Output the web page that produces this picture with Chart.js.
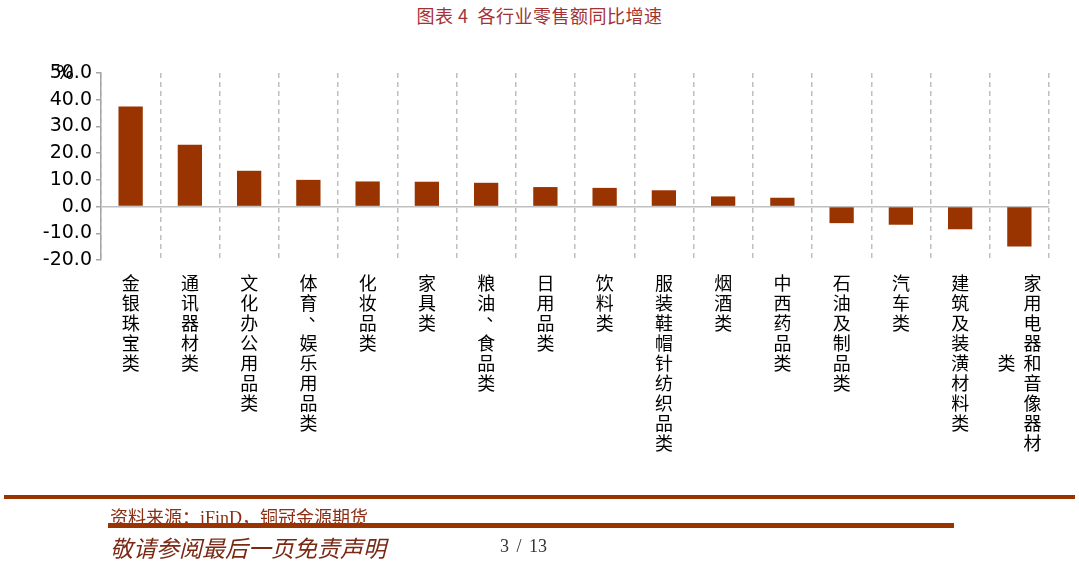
<!DOCTYPE html>
<html>
<head>
<meta charset="utf-8">
<script src="https://cdn.jsdelivr.net/npm/chart.js@4"></script>
<style>
  body { margin: 0; width: 1079px; height: 562px; background: #fff; position: relative; overflow: hidden; font-family: "Noto Sans CJK SC", sans-serif; }
  #wrap { position: absolute; left: 0; top: 0; width: 1079px; height: 562px; }
  .title { position: absolute; top: 2px; left: 0; width: 1079px; text-align: center; color: #a33236; font-size: 18px; letter-spacing: 0.5px; }
  .line1 { position: absolute; left: 4px; top: 495px; width: 1071px; height: 4px; background: #993300; }
  .line2 { position: absolute; left: 108px; top: 523px; width: 846px; height: 5px; background: #993300; }
  .src { position: absolute; left: 110px; top: 503px; color: #8b2f14; font-size: 18px; font-family: "Liberation Serif", "Noto Sans CJK SC", serif; }
  .disc { position: absolute; left: 110px; top: 530px; color: #7a2a14; font-size: 23px; font-style: italic; }
  .page { position: absolute; left: 500px; top: 536px; color: #333; font-size: 18px; word-spacing: 3px; font-family: "Liberation Serif", serif; }
</style>
</head>
<body>
<div class="title">图表 4&nbsp;&nbsp;各行业零售额同比增速</div>
<div id="wrap"><canvas id="c" width="1079" height="562"></canvas></div>
<div class="line1"></div>
<div class="src">资料来源：iFinD，铜冠金源期货</div>
<div class="line2"></div>
<div class="disc">敬请参阅最后一页免责声明</div>
<div class="page">3 / 13</div>
<script>
// 行业分类
const categories = ['金银珠宝类', '通讯器材类', '文化办公用品类', '体育、娱乐用品类', '化妆品类', '家具类',
  '粮油、食品类', '日用品类', '饮料类', '服装鞋帽针纺织品类', '烟酒类', '中西药品类',
  '石油及制品类', '汽车类', '建筑及装潢材料类', '家用电器和音像器材类'];
// 同比增速（%）
const growth = [37.5, 23.1, 13.4, 10.0, 9.4, 9.3, 8.9, 7.3, 7.0, 6.1, 3.8, 3.3, -6.2, -6.8, -8.5, -14.9];
const yMin = -20, yMax = 50, yStep = 10;

// x轴の縦書きラベル
const verticalLabels = {
  id: 'verticalLabels',
  afterDraw(chart) {
    const ctx = chart.ctx;
    const xs = chart.scales.x;
    const top = chart.chartArea.bottom + 23;
    const lh = 20, perCol = 9, colGap = 26;
    ctx.save();
    ctx.font = '18px "Noto Sans CJK SC"';
    ctx.fillStyle = '#000';
    ctx.textAlign = 'center';
    ctx.textBaseline = 'middle';
    categories.forEach((label, i) => {
      const cx = xs.getPixelForValue(i);
      const chars = Array.from(label);
      const cols = [];
      for (let k = 0; k < chars.length; k += perCol) cols.push(chars.slice(k, k + perCol));
      const fullH = Math.min(chars.length, perCol) * lh;
      cols.forEach((col, c) => {
        const x = cx + ((cols.length - 1) / 2 - c) * colGap;
        const y0 = top + (fullH - col.length * lh) / 2;
        col.forEach((ch, j) => {
          const y = y0 + j * lh;
          if (ch === '、') ctx.fillText(ch, x + 9, y - 9);
          else ctx.fillText(ch, x, y);
        });
      });
    });
    // 単位
    ctx.textAlign = 'left';
    ctx.font = '19px "DejaVu Sans"';
    ctx.fillText('%', 56, chart.scales.y.getPixelForValue(yMax) + 1);
    ctx.restore();
  }
};

new Chart(document.getElementById('c'), {
  type: 'bar',
  data: {
    labels: categories,
    datasets: [{
      data: growth,
      backgroundColor: '#993300',
      borderWidth: 0,
      barPercentage: 0.41,
      categoryPercentage: 1
    }]
  },
  options: {
    responsive: false,
    animation: false,
    layout: { padding: { top: 73, right: 30, bottom: 302, left: 0 } },
    plugins: { legend: { display: false }, tooltip: { enabled: false } },
    scales: {
      x: {
        offset: true,
        ticks: { display: false },
        border: { display: false, dash: [5, 4] },
        grid: {
          offset: true,
          drawTicks: false,
          color: '#bfbfbf',
          lineWidth: 1.5
        }
      },
      y: {
        min: yMin,
        max: yMax,
        afterFit(scale) { scale.width = 101; },
        ticks: {
          stepSize: yStep,
          padding: 4,
          color: '#000',
          font: { family: 'DejaVu Sans', size: 19 },
          callback: v => v.toFixed(1)
        },
        border: { display: true, color: '#a6a6a6', width: 1.5 },
        grid: {
          drawTicks: true,
          tickLength: 5,
          tickColor: '#a6a6a6',
          lineWidth: 1.5,
          color: c => (c.tick && c.tick.value === 0 ? '#bfbfbf' : 'rgba(0,0,0,0)')
        }
      }
    }
  },
  plugins: [verticalLabels]
});
</script>
</body>
</html>
